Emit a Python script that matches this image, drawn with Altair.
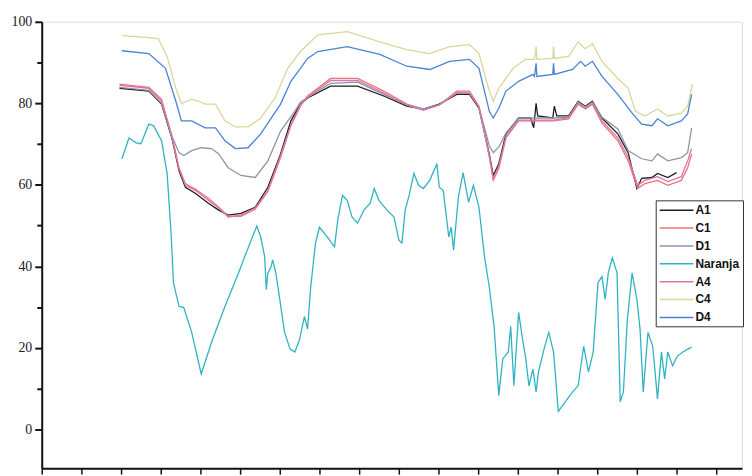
import altair as alt
import pandas as pd

# ---- data ----
series_names = ["A1", "C1", "D1", "Naranja", "A4", "C4", "D4"]
series_colors = ["#1e1e1e", "#f0707a", "#8c95aa", "#2fb3c4", "#d977a8", "#d9d79c", "#4a82d4"]

a1_x = [398, 435, 451, 464, 473, 481, 494, 510, 523, 535, 551, 569, 585, 601, 614, 626, 635, 664, 698, 731, 760, 781, 801, 823, 839, 851, 864, 869, 876, 885, 901, 916, 920, 923, 925, 944, 946, 949, 964, 976, 985, 994, 1006, 1026, 1039, 1050, 1056, 1069, 1076, 1089, 1100]
a1_y = [83.7, 83.0, 79.8, 71.5, 63.5, 59.4, 57.9, 55.5, 53.8, 52.6, 53.0, 54.5, 59.4, 67.6, 75.7, 79.8, 81.3, 84.2, 84.2, 81.8, 79.3, 78.6, 79.8, 82.2, 82.2, 78.8, 67.6, 62.3, 65.2, 72.5, 76.4, 76.4, 74.0, 80.0, 76.9, 76.4, 79.3, 76.9, 76.9, 80.5, 79.3, 80.5, 76.4, 72.5, 67.9, 59.1, 61.6, 61.8, 62.8, 61.8, 63.0]

c1_x = [398, 435, 451, 464, 473, 481, 494, 510, 523, 535, 551, 569, 585, 601, 614, 626, 635, 664, 698, 731, 760, 781, 801, 823, 839, 851, 864, 869, 876, 885, 901, 923, 945, 964, 976, 985, 994, 1006, 1026, 1039, 1051, 1060, 1076, 1089, 1106, 1114, 1119]
c1_y = [84.7, 83.9, 81.0, 72.0, 64.0, 59.9, 58.6, 56.2, 54.3, 52.1, 52.6, 54.3, 58.6, 67.2, 74.5, 79.3, 81.8, 86.1, 86.1, 83.0, 79.8, 78.6, 79.6, 83.0, 83.0, 79.3, 67.2, 61.1, 64.0, 71.5, 75.7, 75.7, 75.7, 76.2, 79.8, 78.6, 79.8, 75.2, 70.8, 65.9, 59.1, 60.3, 61.1, 59.9, 61.1, 64.2, 67.6]

d1_x = [398, 435, 451, 464, 473, 479, 489, 501, 514, 523, 535, 551, 569, 585, 601, 619, 626, 635, 664, 698, 731, 760, 781, 801, 823, 839, 851, 864, 869, 876, 885, 901, 923, 945, 964, 976, 985, 994, 1006, 1026, 1039, 1056, 1069, 1076, 1089, 1106, 1114, 1119]
d1_y = [83.9, 83.2, 80.0, 72.0, 67.9, 67.2, 68.4, 69.1, 68.9, 67.6, 64.2, 62.3, 61.8, 65.9, 73.2, 78.1, 80.3, 81.5, 84.9, 85.2, 82.2, 79.6, 78.6, 79.6, 82.5, 82.5, 79.1, 69.6, 67.9, 69.3, 72.7, 76.4, 76.4, 76.4, 76.6, 80.3, 79.1, 80.3, 76.6, 73.7, 68.4, 66.4, 65.9, 67.6, 65.9, 66.7, 67.9, 74.0]

nar_x = [401, 410, 419, 425, 435, 441, 451, 458, 463, 466, 473, 479, 489, 501, 514, 531, 548, 564, 571, 576, 581, 583, 585, 589, 591, 595, 600, 606, 613, 619, 625, 631, 635, 639, 645, 650, 660, 669, 673, 679, 685, 691, 698, 706, 714, 719, 725, 735, 744, 750, 754, 758, 763, 769, 775, 781, 789, 798, 801, 806, 813, 816, 819, 825, 831, 838, 844, 851, 858, 864, 870, 876, 881, 888, 891, 895, 901, 906, 910, 914, 919, 923, 926, 933, 939, 945, 951, 960, 969, 976, 983, 989, 995, 1001, 1006, 1010, 1014, 1019, 1025, 1029, 1033, 1038, 1044, 1050, 1054, 1058, 1064, 1070, 1076, 1081, 1085, 1089, 1095, 1101, 1108, 1114, 1119]
nar_y = [66.4, 71.5, 70.3, 70.1, 74.9, 74.5, 70.8, 62.8, 48.2, 36.0, 30.2, 29.9, 23.8, 13.6, 21.4, 30.2, 38.4, 46.5, 49.9, 47.2, 42.3, 34.3, 38.4, 39.9, 41.6, 38.4, 31.9, 23.8, 19.7, 19.0, 22.1, 27.7, 24.6, 35.0, 45.7, 49.6, 47.2, 44.8, 51.3, 57.4, 56.2, 52.1, 50.6, 53.8, 55.5, 59.1, 56.2, 53.8, 52.1, 46.5, 45.7, 53.8, 57.4, 62.8, 59.9, 59.1, 61.1, 65.2, 59.4, 58.6, 47.2, 49.6, 44.0, 56.9, 63.0, 55.7, 59.9, 54.5, 42.3, 35.0, 25.3, 8.3, 17.3, 19.0, 25.3, 10.7, 28.7, 22.1, 17.3, 10.7, 14.8, 9.2, 14.1, 19.7, 23.8, 19.0, 4.4, 6.8, 9.2, 10.7, 20.4, 14.1, 19.0, 36.0, 37.5, 31.9, 38.4, 42.1, 38.4, 6.8, 9.2, 27.0, 38.4, 31.9, 24.6, 9.2, 23.8, 20.4, 7.5, 19.0, 12.4, 19.0, 15.6, 18.0, 19.0, 19.7, 20.2]

a4_x = [398, 435, 451, 464, 473, 481, 494, 510, 523, 535, 551, 569, 585, 601, 614, 626, 635, 664, 698, 731, 760, 781, 801, 823, 839, 851, 864, 869, 876, 885, 901, 923, 945, 964, 976, 985, 994, 1006, 1026, 1039, 1051, 1060, 1076, 1089, 1106, 1114, 1119]
a4_y = [84.4, 83.7, 80.5, 71.8, 64.2, 60.3, 58.9, 56.7, 54.5, 52.3, 52.3, 54.0, 58.4, 66.7, 74.7, 79.6, 81.5, 85.6, 85.6, 82.5, 79.6, 78.3, 79.6, 82.7, 82.5, 79.1, 66.9, 61.6, 64.5, 71.8, 75.9, 75.9, 75.9, 76.4, 80.0, 78.8, 80.0, 75.7, 71.5, 66.7, 59.9, 61.1, 62.0, 60.8, 62.0, 65.9, 68.9]

c4_x = [401, 435, 447, 458, 469, 476, 489, 498, 506, 519, 531, 544, 560, 576, 594, 610, 626, 648, 685, 726, 760, 789, 814, 839, 851, 863, 869, 876, 894, 910, 921, 923, 924, 944, 945, 946, 964, 976, 985, 994, 1006, 1026, 1039, 1048, 1060, 1076, 1089, 1106, 1114, 1120]
c4_y = [96.6, 96.1, 95.9, 91.5, 83.7, 80.0, 81.0, 80.5, 79.8, 79.8, 75.7, 74.2, 74.2, 76.4, 81.3, 88.6, 92.7, 96.8, 97.6, 95.1, 93.2, 92.2, 93.9, 94.4, 92.2, 83.7, 80.5, 83.7, 88.6, 90.8, 90.8, 93.9, 90.8, 91.0, 93.9, 91.0, 91.5, 95.1, 93.4, 94.6, 90.3, 86.1, 83.7, 78.1, 76.9, 78.6, 76.9, 77.6, 79.3, 84.7]

d4_x = [401, 435, 456, 469, 476, 489, 506, 519, 531, 544, 560, 576, 601, 614, 626, 635, 648, 685, 726, 760, 789, 814, 839, 851, 864, 869, 876, 885, 901, 919, 921, 923, 924, 944, 945, 946, 969, 979, 985, 994, 1006, 1026, 1044, 1056, 1069, 1076, 1089, 1106, 1114, 1119]
d4_y = [92.9, 92.2, 88.6, 80.5, 75.7, 75.7, 74.0, 74.0, 70.8, 68.9, 69.1, 72.5, 79.8, 85.4, 88.6, 91.0, 92.7, 93.9, 92.0, 89.1, 88.3, 90.3, 90.8, 88.6, 78.1, 76.4, 78.8, 83.0, 85.4, 87.1, 86.6, 89.8, 86.6, 87.1, 89.8, 87.1, 88.3, 90.3, 89.1, 90.3, 86.6, 82.2, 77.6, 74.9, 74.5, 76.2, 74.5, 75.7, 77.4, 82.2]

x_ticks = list(range(300, 1151, 50))
y_ticks = [0, 10, 20, 30, 40, 50, 60, 70, 80, 90, 100]

# ---- build long table ----
xs = [a1_x, c1_x, d1_x, nar_x, a4_x, c4_x, d4_x]
ys = [a1_y, c1_y, d1_y, nar_y, a4_y, c4_y, d4_y]
rows = []
for order, (name, sx, sy) in enumerate(zip(series_names, xs, ys)):
    for xv, yv in zip(sx, sy):
        rows.append({"serie": name, "x": xv, "y": yv, "o": order})
df = pd.DataFrame(rows)

lines = alt.Chart(df).mark_line(strokeWidth=1.3, interpolate="linear").encode(
    x=alt.X("x:Q", scale=alt.Scale(domain=[300, 1182.5], nice=False, zero=False),
            axis=alt.Axis(values=x_ticks, labels=False, title=None, grid=False,
                          tickSize=6, tickWidth=1.5, tickColor="#111",
                          domainColor="#111", domainWidth=2)),
    y=alt.Y("y:Q", scale=alt.Scale(domain=[-9.5, 100], nice=False, zero=False),
            axis=alt.Axis(values=y_ticks, title=None, grid=False,
                          labelExpr="datum.value % 20 === 0 ? datum.label : ''",
                          labelFont="Liberation Serif",
                          labelFontSize=14,
                          labelColor="#222", labelPadding=3,
                          tickSize={"condition": {"test": "datum.value % 20 === 0", "value": 7}, "value": 5},
                          tickWidth=2, tickColor="#111",
                          domainColor="#111", domainWidth=2)),
    color=alt.Color("serie:N",
                    scale=alt.Scale(domain=series_names, range=series_colors),
                    legend=alt.Legend(title=None, orient="none", legendX=619, legendY=180,
                                      symbolType="M-1,0H4.67", symbolSize=144,
                                      symbolStrokeWidth=1.5, labelOffset=23,
                                      labelFont="Liberation Sans",
                                      labelFontWeight="bold",
                                      labelFontSize=12, labelColor="#111",
                                      rowPadding=5, padding=3,
                                      strokeColor="#333", fillColor="white")),
    detail="serie:N",
    order="o:Q",
)

chart = lines.properties(
    width=706, height=450,
    autosize=alt.AutoSizeParams(type="none"),
    padding={"left": 34, "top": 12, "right": 2, "bottom": 6},
).configure_view(stroke=None).configure(background="white")

chart.save("out.html", embed_options={"renderer": "svg", "actions": False})
